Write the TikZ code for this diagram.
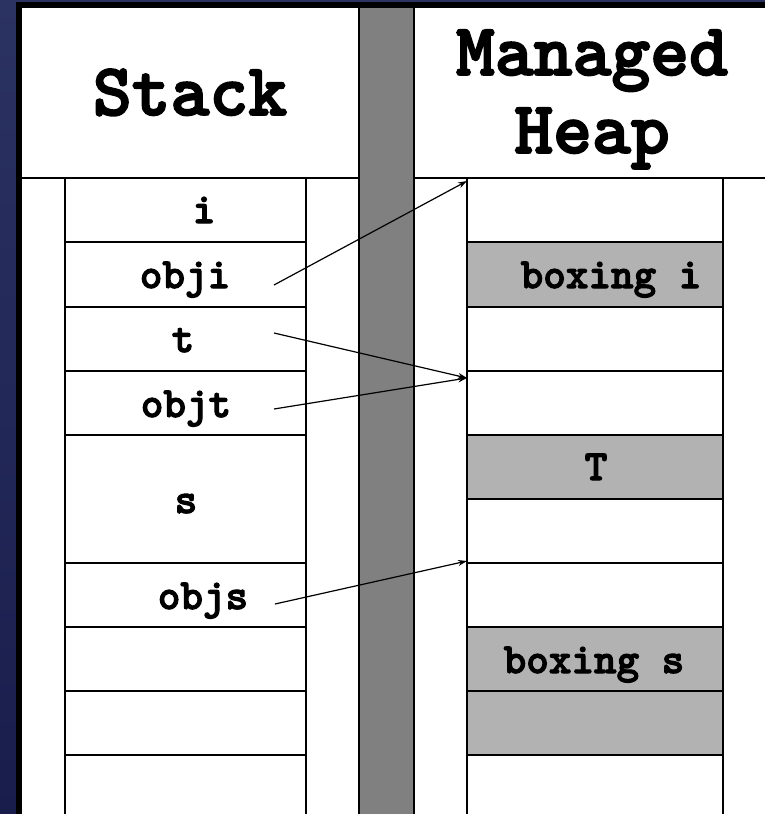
\documentclass[tikz,border=0pt]{standalone}
\usetikzlibrary{arrows.meta}
\usepackage{fontspec}
\newfontfamily\monobold{lmmonolt10-bold.otf}[FakeBold=2.5]
\definecolor{bgtop}{HTML}{2B3363}
\definecolor{bgbot}{HTML}{191D4C}
\definecolor{bargray}{HTML}{808080}
\definecolor{heapgray}{HTML}{B2B2B2}
\newcommand\celltxt{\monobold\fontsize{43}{50}\selectfont}
\newcommand\headtxt{\monobold\fontsize{74}{78}\selectfont}
\tikzset{
  stackcell/.style={draw=black, line width=1.8pt, fill=white, minimum width=241pt,
    anchor=north west, inner sep=0pt, outer sep=0pt},
  heapcell/.style={draw=black, line width=1.8pt, fill=white, minimum width=256pt,
    anchor=north west, inner sep=0pt, outer sep=0pt},
  boxed/.style={fill=heapgray},
  lbl/.style={anchor=base, inner sep=0pt, font=\celltxt},
  hdr/.style={anchor=base, inner sep=0pt, font=\headtxt, align=center},
  ptr/.style={draw=black, line width=1.2pt, -{Stealth[length=9pt,width=6pt]}},
  rule/.style={draw=black, line width=1.8pt}
}
\begin{document}
\begin{tikzpicture}[x=1pt,y=-1pt]
\useasboundingbox (0,0) rectangle (765,814);
% background
\shade[top color=bgtop, bottom color=bgbot] (0,0) rectangle (765,814);
% white panel
\fill[white] (19,4) rectangle (780,830);
% gray separator bar
\fill[bargray] (359,5) rectangle (414,830);
\draw[rule] (359,5) -- (359,830);
\draw[rule] (414,5) -- (414,830);
% header separator lines
\draw[rule] (19,178) -- (359,178);
\draw[rule] (414,178) -- (780,178);
% outer thick border
\draw[black, line width=6pt] (19,830) -- (19,4.5) -- (780,4.5);

% headers
\node[hdr] (hstack) at (190,115) {Stack};
\node[hdr] (hheap1) at (592,75) {Managed};
\node[hdr] (hheap2) at (592,153) {Heap};

% stack cells
\node[stackcell, minimum height=64pt] (si)    at (65,178) {};
\node[stackcell, minimum height=65pt] (sobji) at (65,242) {};
\node[stackcell, minimum height=64pt] (st)    at (65,307) {};
\node[stackcell, minimum height=64pt] (sobjt) at (65,371) {};
\node[stackcell, minimum height=128pt] (ss)   at (65,435) {};
\node[stackcell, minimum height=64pt] (sobjs) at (65,563) {};
\node[stackcell, minimum height=64pt] (se1)   at (65,627) {};
\node[stackcell, minimum height=64pt] (se2)   at (65,691) {};
\node[stackcell, minimum height=75pt] (se3)   at (65,755) {};

% heap cells
\node[heapcell, minimum height=64pt] (h1)  at (467,178) {};
\node[heapcell, boxed, minimum height=65pt] (h2)  at (467,242) {};
\node[heapcell, minimum height=64pt] (h3)  at (467,307) {};
\node[heapcell, minimum height=64pt] (h4)  at (467,371) {};
\node[heapcell, boxed, minimum height=64pt] (h5)  at (467,435) {};
\node[heapcell, minimum height=64pt] (h6)  at (467,499) {};
\node[heapcell, minimum height=64pt] (h7)  at (467,563) {};
\node[heapcell, boxed, minimum height=64pt] (h8)  at (467,627) {};
\node[heapcell, boxed, minimum height=64pt] (h9)  at (467,691) {};
\node[heapcell, minimum height=75pt] (h10) at (467,755) {};

% stack labels
\node[lbl] (ti)    at (204,223) {i};
\node[lbl] (tobji) at (185,288) {obji};
\node[lbl] (tt)    at (183,352) {t};
\node[lbl] (tobjt) at (186,417) {objt};
\node[lbl] (ts)    at (186,513) {s};
\node[lbl] (tobjs) at (203,609) {objs};

% heap labels
\node[lbl] (tboxi) at (611,288) {boxing i};
\node[lbl] (tT)    at (596,480) {T};
\node[lbl] (tboxs) at (594,673) {boxing s};

% pointer anchors
\coordinate (pobji) at (274,285);
\coordinate (pt)    at (274,333);
\coordinate (pobjt) at (274,409);
\coordinate (pobjs) at (275,604);
\coordinate (qi) at (467,181);
\coordinate (qt) at (467,378);
\coordinate (qs) at (467,561);

\draw[ptr] (pobji) -- (qi);
\draw[ptr] (pt) -- (qt);
\draw[ptr] (pobjt) -- (qt);
\draw[ptr] (pobjs) -- (qs);
\end{tikzpicture}
\end{document}
